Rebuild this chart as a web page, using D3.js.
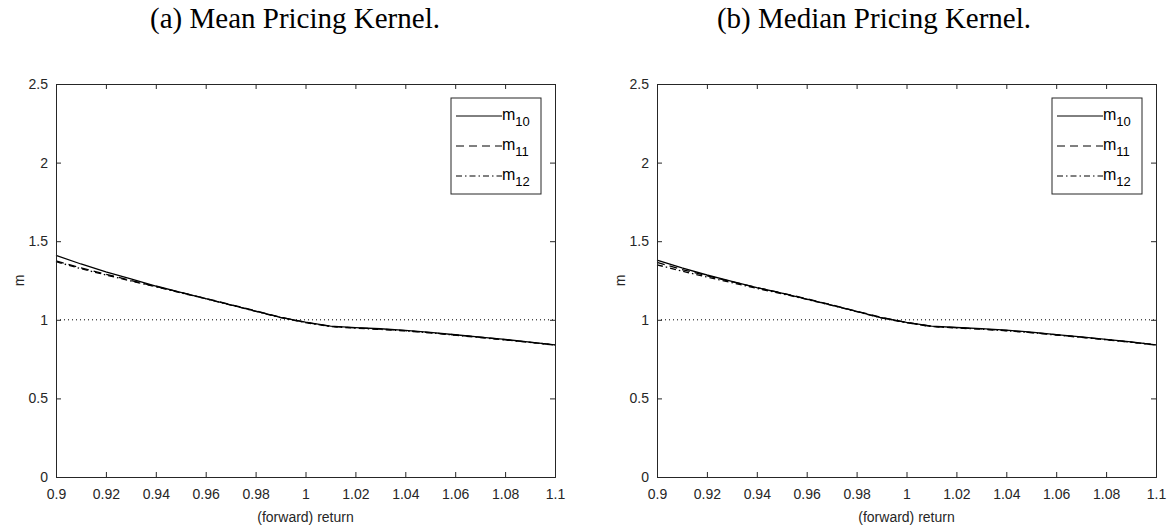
<!DOCTYPE html>
<html>
<head>
<meta charset="utf-8">
<script src="https://d3js.org/d3.v7.min.js"></script>
<style>
    body { margin: 0; background: #fff; }
    svg { display: block; }
</style>
</head>
<body>
<script>
// Data
const returns = [0.90, 0.91, 0.92, 0.93, 0.94, 0.95, 0.96, 0.97, 0.98, 0.99, 1.00,
                 1.01, 1.02, 1.03, 1.04, 1.05, 1.06, 1.07, 1.08, 1.09, 1.10];

// (a) mean pricing kernel
const meanM10 = [1.41, 1.355, 1.305, 1.26, 1.215, 1.175, 1.135, 1.095, 1.055, 1.015, 0.985,
                 0.960, 0.950, 0.943, 0.933, 0.920, 0.905, 0.890, 0.875, 0.858, 0.840];
const meanM11 = [1.375, 1.33, 1.29, 1.25, 1.212, 1.174, 1.136, 1.097, 1.057, 1.017, 0.984,
                 0.958, 0.949, 0.941, 0.931, 0.918, 0.904, 0.889, 0.873, 0.857, 0.840];
const meanM12 = [1.37, 1.325, 1.285, 1.247, 1.21, 1.172, 1.134, 1.094, 1.054, 1.014, 0.982,
                 0.957, 0.947, 0.939, 0.929, 0.917, 0.902, 0.887, 0.872, 0.856, 0.839];

// (b) median pricing kernel
const medM10 = [1.38, 1.33, 1.285, 1.245, 1.205, 1.17, 1.132, 1.093, 1.053, 1.013, 0.983,
                0.960, 0.951, 0.944, 0.934, 0.921, 0.906, 0.891, 0.876, 0.859, 0.840];
const medM11 = [1.365, 1.32, 1.28, 1.242, 1.205, 1.171, 1.134, 1.095, 1.055, 1.015, 0.983,
                0.958, 0.950, 0.942, 0.932, 0.919, 0.905, 0.890, 0.874, 0.858, 0.841];
const medM12 = [1.35, 1.31, 1.272, 1.236, 1.2, 1.166, 1.13, 1.092, 1.052, 1.012, 0.981,
                0.957, 0.948, 0.940, 0.930, 0.918, 0.903, 0.888, 0.873, 0.857, 0.839];

const xTicks = [0.9, 0.92, 0.94, 0.96, 0.98, 1, 1.02, 1.04, 1.06, 1.08, 1.1];
const yTicks = [0, 0.5, 1, 1.5, 2, 2.5];
const seriesNames = ["10", "11", "12"];
const titles = ["(a) Mean Pricing Kernel.", "(b) Median Pricing Kernel."];

// Set up dimensions
const width = 1170;
const height = 529;
const panelLeft = [56, 657];
const panelWidth = 499;
const titleCenter = [295, 874];
const plotTop = 84;
const plotBottom = 477;
const dashes = [null, "8,5", "6,3,1.5,3"];
const axisColor = "#262626";

const svg = d3.select("body").append("svg")
    .attr("width", width)
    .attr("height", height);

const panels = [
    [meanM10, meanM11, meanM12],
    [medM10, medM11, medM12]
];

panels.forEach((series, p) => {
    const left = panelLeft[p];
    const x = d3.scaleLinear().domain([0.9, 1.1]).range([left, left + panelWidth]);
    const y = d3.scaleLinear().domain([0, 2.5]).range([plotBottom, plotTop]);

    const g = svg.append("g");

    // Subfigure caption
    svg.append("text")
        .attr("x", titleCenter[p])
        .attr("y", 28)
        .attr("text-anchor", "middle")
        .style("font-family", "'Liberation Serif', 'DejaVu Serif', serif")
        .style("font-size", "29px")
        .style("fill", "#000")
        .text(titles[p]);

    // Reference line at m = 1
    g.append("line")
        .attr("x1", x(0.9)).attr("x2", x(1.1))
        .attr("y1", y(1)).attr("y2", y(1))
        .style("stroke", "#000")
        .style("stroke-width", 1)
        .style("stroke-dasharray", "1,3");

    // Curves
    const line = d3.line()
        .x((d, i) => x(returns[i]))
        .y(d => y(d));

    series.forEach((vals, s) => {
        g.append("path")
            .datum(vals)
            .attr("d", line)
            .style("fill", "none")
            .style("stroke", "#000")
            .style("stroke-width", 1.3)
            .style("stroke-dasharray", dashes[s]);
    });

    // Axes with inward ticks, box on
    const xAxis = g.append("g")
        .attr("transform", `translate(0,${plotBottom})`)
        .call(d3.axisBottom(x).tickValues(xTicks).tickSize(-5).tickPadding(12).tickFormat(d3.format("")));
    const xTop = g.append("g")
        .attr("transform", `translate(0,${plotTop})`)
        .call(d3.axisTop(x).tickValues(xTicks).tickSize(-5).tickFormat(""));
    const yAxis = g.append("g")
        .attr("transform", `translate(${left},0)`)
        .call(d3.axisLeft(y).tickValues(yTicks).tickSize(-5).tickPadding(8).tickFormat(d3.format("")));
    const yRight = g.append("g")
        .attr("transform", `translate(${left + panelWidth},0)`)
        .call(d3.axisRight(y).tickValues(yTicks).tickSize(-5).tickFormat(""));

    [xAxis, xTop, yAxis, yRight].forEach(a => {
        a.select(".domain").attr("stroke", axisColor).attr("stroke-width", 1);
        a.selectAll(".tick line").attr("stroke", axisColor);
        a.selectAll("text")
            .style("font-family", "'Liberation Sans', Arial, sans-serif")
            .style("font-size", "14px")
            .style("fill", axisColor);
    });

    // Axis labels
    g.append("text")
        .attr("x", left + panelWidth / 2)
        .attr("y", 522)
        .attr("text-anchor", "middle")
        .style("font-family", "'Liberation Sans', Arial, sans-serif")
        .style("font-size", "14px")
        .style("fill", axisColor)
        .text("(forward) return");

    g.append("text")
        .attr("transform", `translate(${left - 32},${(plotTop + plotBottom) / 2}) rotate(-90)`)
        .attr("text-anchor", "middle")
        .style("font-family", "'Liberation Sans', Arial, sans-serif")
        .style("font-size", "14px")
        .style("fill", axisColor)
        .text("m");

    // Legend
    const lgX = left + panelWidth - 104;
    const lgY = plotTop + 14;
    const legend = g.append("g").attr("transform", `translate(${lgX},${lgY})`);
    legend.append("rect")
        .attr("width", 90).attr("height", 96)
        .style("fill", "#fff")
        .style("stroke", axisColor)
        .style("stroke-width", 1);

    seriesNames.forEach((name, s) => {
        const ry = 18 + s * 30;
        legend.append("line")
            .attr("x1", 5).attr("x2", 51)
            .attr("y1", ry).attr("y2", ry)
            .style("stroke", "#000")
            .style("stroke-width", 1)
            .style("stroke-dasharray", dashes[s]);
        const t = legend.append("text")
            .attr("x", 51)
            .attr("y", ry + 4)
            .style("font-family", "'Liberation Sans', Arial, sans-serif")
            .style("font-size", "16px")
            .style("fill", "#000");
        t.append("tspan").text("m");
        t.append("tspan")
            .attr("dy", 6)
            .style("font-size", "13px")
            .text(name);
    });
});
</script>
</body>
</html>
